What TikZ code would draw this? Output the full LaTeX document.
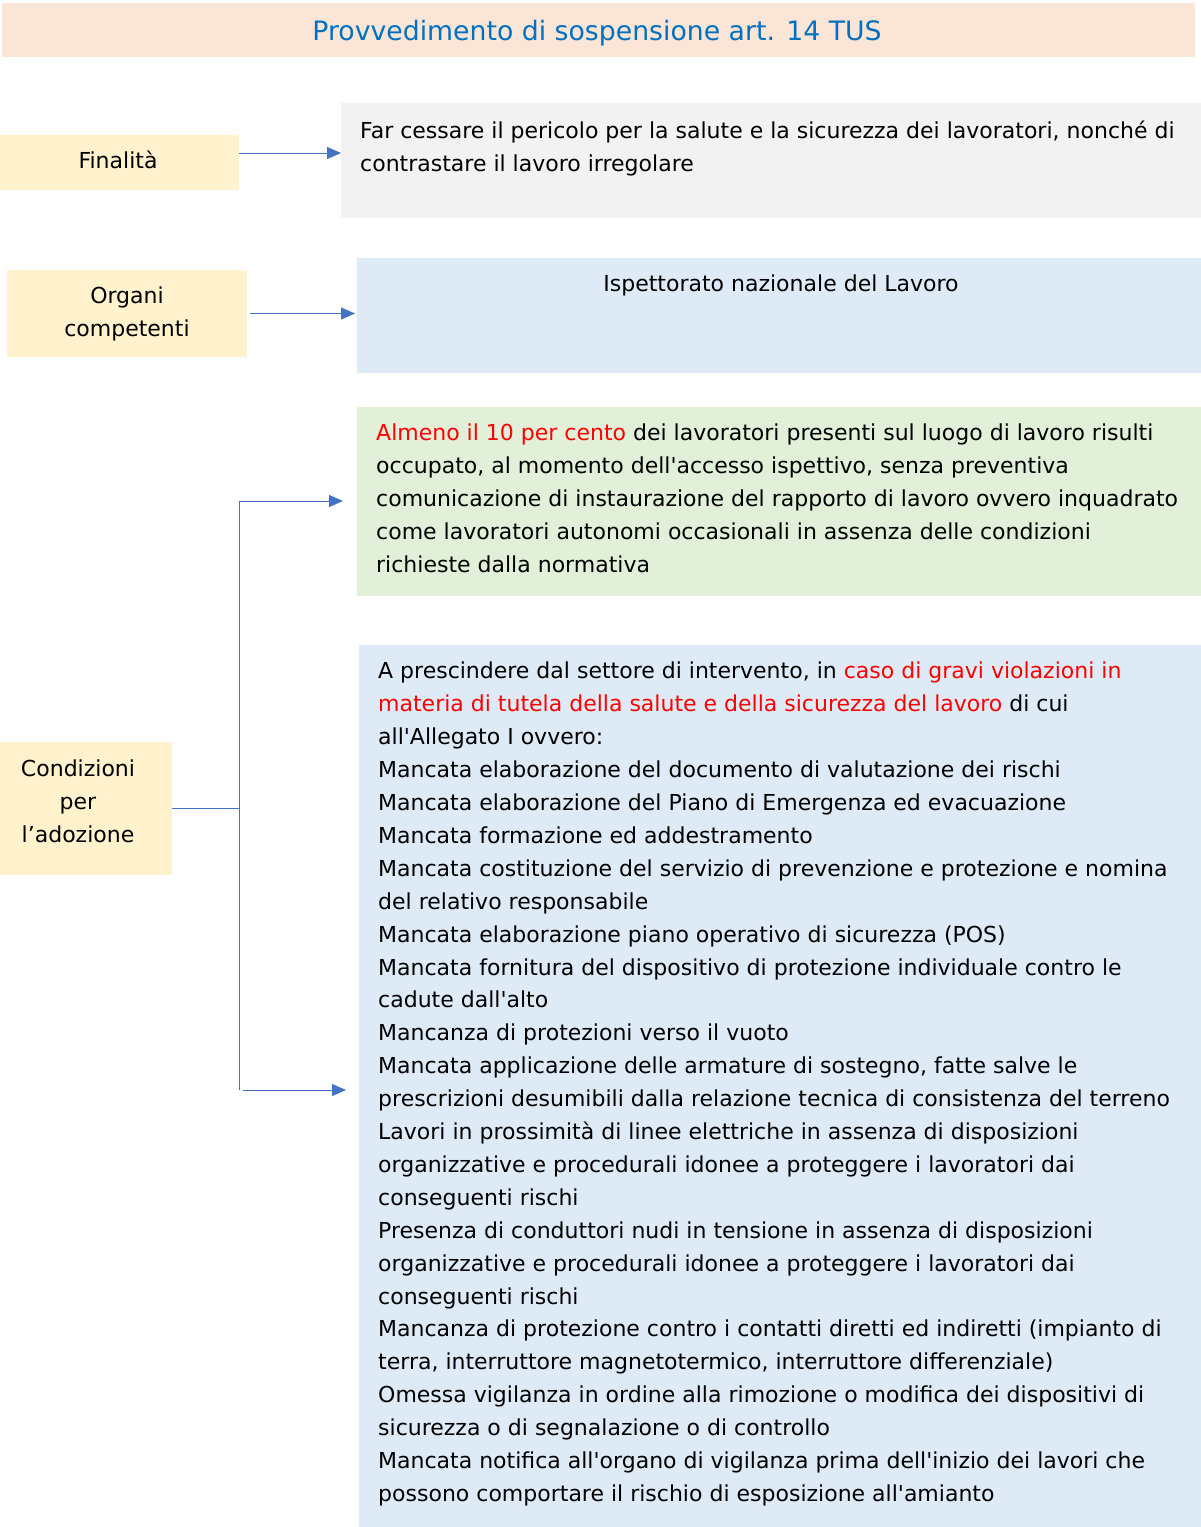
\documentclass[tikz,border=0pt]{standalone}
\usepackage{fontspec}
\setmainfont{DejaVu Sans}[Ligatures=TeXOff]
\usetikzlibrary{arrows.meta,positioning}
\definecolor{titlefill}{RGB}{251,229,214}
\definecolor{titleblue}{RGB}{0,112,192}
\definecolor{keyfill}{RGB}{255,242,204}
\definecolor{greyfill}{RGB}{242,242,242}
\definecolor{bluefill}{RGB}{222,235,247}
\definecolor{greenfill}{RGB}{226,240,217}
\definecolor{linkblue}{RGB}{68,114,196}
\definecolor{alarm}{RGB}{255,0,0}
\newcommand{\cstbody}{\fontsize{22}{32.9}\selectfont}
\newcommand{\csttitle}{\fontsize{26.7}{32}\selectfont}
\tikzset{
  % boxes
	cstbox/.style      ={anchor=north west, inner sep=0pt, outer sep=0pt, font=\cstbody},
	cstkey/.style      ={cstbox, fill=keyfill, align=center},
	csttext/.style     ={anchor=north west, inner sep=0pt, font=\cstbody, align=left},
  % arrow
	cstline/.style     ={draw=linkblue, line width=1pt},
	cstra/.style       ={cstline, -{Triangle[length=14pt,width=12pt]}}
}
\begin{document}
\begin{tikzpicture}[x=1pt,y=-1pt]
	\useasboundingbox (0,0) rectangle (1201,1527);
	% title
	\node[cstbox, fill=titlefill, minimum width=1193pt, minimum height=54pt] (title) at (2,3) {};
	\node[font=\csttitle, text=titleblue, inner sep=0pt] (titletext) at (597,33) {Provvedimento di sospensione art. 14 TUS};
	% finalita
	\node[cstkey, minimum width=239pt, minimum height=55pt] (fin) at (0,135) {};
	\node[font=\cstbody, inner sep=0pt] (fintitle) at (118,160) {Finalità};
	\node[cstbox, fill=greyfill, minimum width=860pt, minimum height=115pt] (finbox) at (341,103) {};
	\node[csttext] (fintext) at (360,121) {Far cessare il pericolo per la salute e la sicurezza dei lavoratori, nonché di\\contrastare il lavoro irregolare};
	\draw[cstra] ([yshift=9.5pt]fin.east) -- ([yshift=9.5pt]fin.east -| finbox.west);
	% organi
	\node[cstkey, minimum width=240pt, minimum height=87pt] (org) at (7,270) {Organi\\competenti};
	\node[cstbox, fill=bluefill, minimum width=844pt, minimum height=115pt] (orgbox) at (357,258) {};
	\node[csttext, anchor=north] (orgtext) at (781,275) {Ispettorato nazionale del Lavoro};
	\draw[cstra] ([xshift=3pt]org.east) -- ([xshift=-2pt]org.east -| orgbox.west);
	% condizioni
	\node[cstkey, minimum width=172pt, minimum height=133pt] (cond) at (0,742) {};
	\node[font=\cstbody, align=center, inner sep=0pt] (condtext) at (78,801) {Condizioni\\per\\l’adozione};
	\node[cstbox, fill=greenfill, minimum width=844pt, minimum height=189pt] (irrbox) at (357,407) {};
	\node[csttext] (irrtext) at (376,424) {\textcolor{alarm}{Almeno il 10 per cento} dei lavoratori presenti sul luogo di lavoro risulti\\
occupato, al momento dell'accesso ispettivo, senza preventiva\\
comunicazione di instaurazione del rapporto di lavoro ovvero inquadrato\\
come lavoratori autonomi occasionali in assenza delle condizioni\\
richieste dalla normativa};
	\node[cstbox, fill=bluefill, minimum width=842pt, minimum height=882pt] (violbox) at (359,645) {};
	\node[csttext] (violtext) at (378,662) {A prescindere dal settore di intervento, in \textcolor{alarm}{caso di gravi violazioni in}\\
\textcolor{alarm}{materia di tutela della salute e della sicurezza del lavoro} di cui\\
all'Allegato I ovvero:\\
Mancata elaborazione del documento di valutazione dei rischi\\
Mancata elaborazione del Piano di Emergenza ed evacuazione\\
Mancata formazione ed addestramento\\
Mancata costituzione del servizio di prevenzione e protezione e nomina\\
del relativo responsabile\\
Mancata elaborazione piano operativo di sicurezza (POS)\\
Mancata fornitura del dispositivo di protezione individuale contro le\\
cadute dall'alto\\
Mancanza di protezioni verso il vuoto\\
Mancata applicazione delle armature di sostegno, fatte salve le\\
prescrizioni desumibili dalla relazione tecnica di consistenza del terreno\\
Lavori in prossimità di linee elettriche in assenza di disposizioni\\
organizzative e procedurali idonee a proteggere i lavoratori dai\\
conseguenti rischi\\
Presenza di conduttori nudi in tensione in assenza di disposizioni\\
organizzative e procedurali idonee a proteggere i lavoratori dai\\
conseguenti rischi\\
Mancanza di protezione contro i contatti diretti ed indiretti (impianto di\\
terra, interruttore magnetotermico, interruttore differenziale)\\
Omessa vigilanza in ordine alla rimozione o modifica dei dispositivi di\\
sicurezza o di segnalazione o di controllo\\
Mancata notifica all'organo di vigilanza prima dell'inizio dei lavori che\\
possono comportare il rischio di esposizione all'amianto};
	\coordinate (split) at (239,808);
	\coordinate (top) at (239,501);
	\coordinate (bot) at (239,1090);
	\coordinate (topend) at (343,501);
	\coordinate (botstart) at (243,1090);
	\coordinate (botend) at (346,1090);
	\draw[cstline] (cond.east |- split) -- (split);
	\draw[cstline] (top) -- (bot);
	\draw[cstra] (top) -- (topend);
	\draw[cstra] (botstart) -- (botend);
\end{tikzpicture}
\end{document}
